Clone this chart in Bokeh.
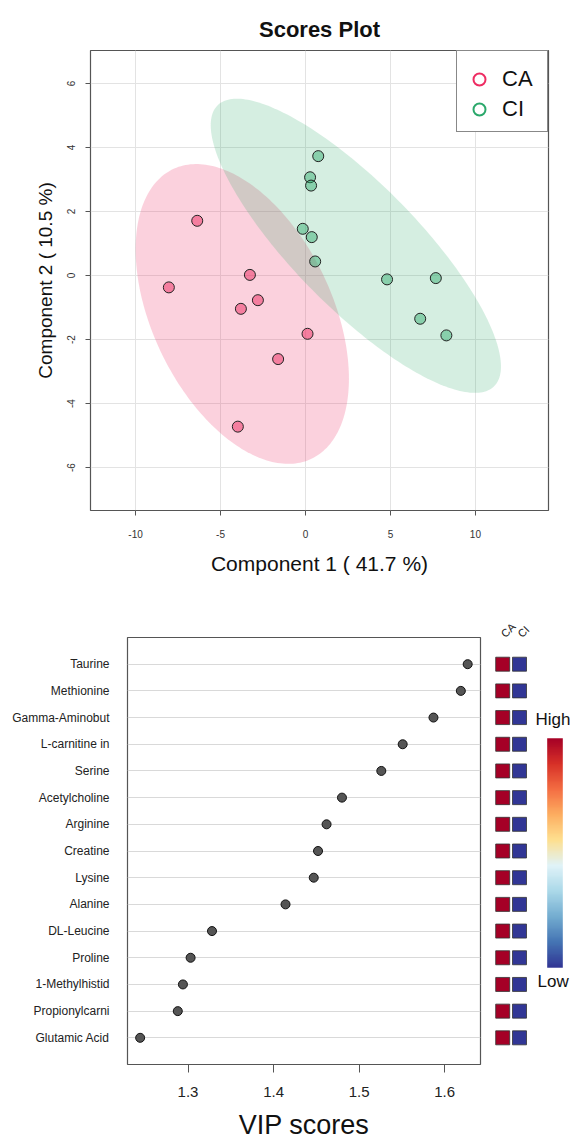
import numpy as np
from bokeh.plotting import figure
from bokeh.layouts import column, row
from bokeh.models import Range1d, FixedTicker, LinearAxis, LinearColorMapper, ColumnDataSource
from bokeh.embed import file_html
from bokeh.resources import INLINE
from bokeh.core.properties import value

FONT = "Liberation Sans"

# ---------------- data: scores plot ----------------
groups = ["CA", "CI"]
ca_pc1 = [-6.37, -8.04, -3.27, -2.80, -3.80, 0.12, -1.61, -3.98]
ca_pc2 = [1.71, -0.37, 0.02, -0.77, -1.04, -1.82, -2.61, -4.72]
ci_pc1 = [0.75, 0.27, 0.33, -0.16, 0.37, 0.57, 4.80, 7.67, 6.75, 8.29]
ci_pc2 = [3.73, 3.07, 2.81, 1.46, 1.20, 0.44, -0.12, -0.08, -1.35, -1.87]
score_x_ticks = [-10, -5, 0, 5, 10]
score_y_ticks = [-6, -4, -2, 0, 2, 4, 6]

# ---------------- data: VIP plot ----------------
metabolites = ["Taurine", "Methionine", "Gamma-Aminobut", "L-carnitine in", "Serine",
               "Acetylcholine", "Arginine", "Creatine", "Lysine", "Alanine",
               "DL-Leucine", "Proline", "1-Methylhistid", "Propionylcarni", "Glutamic Acid"]
vip = [1.627, 1.619, 1.587, 1.551, 1.526, 1.480, 1.462, 1.452, 1.447, 1.414,
       1.328, 1.303, 1.294, 1.288, 1.244]
ca_level = [1.0, 1.0, 1.0, 1.0, 1.0, 1.0, 1.0, 1.0, 1.0, 1.0, 1.0, 1.0, 1.0, 1.0, 1.0]
ci_level = [0.0, 0.0, 0.0, 0.0, 0.0, 0.0, 0.0, 0.0, 0.0, 0.0, 0.0, 0.0, 0.0, 0.0, 0.0]
vip_ticks = [1.3, 1.4, 1.5, 1.6]

CA_COL = "#EE2C62"
CI_COL = "#2BA86B"


def conf_ellipse(x, y, n=240):
    pts = np.vstack([x, y])
    mu = pts.mean(axis=1)
    cov = np.cov(pts)
    t = np.sqrt(-2 * np.log(0.05))  # sqrt(chi2_0.95, df=2)
    vals, vecs = np.linalg.eigh(cov)
    th = np.linspace(0, 2 * np.pi, n)
    circ = np.vstack([np.cos(th), np.sin(th)])
    e = vecs @ (np.sqrt(vals)[:, None] * circ) * t + mu[:, None]
    return e[0], e[1]


# ================= top: scores plot =================
p1 = figure(width=571, height=590, x_range=Range1d(-12.65, 14.3), y_range=Range1d(-7.34, 7.03),
            output_backend="svg", toolbar_location=None, title="Scores Plot",
            min_border_left=90, min_border_right=23, min_border_top=50, min_border_bottom=80)
p1.title.align = "center"
p1.title.text_font = FONT
p1.title.text_font_size = "22px"
p1.title.text_font_style = "bold"
p1.title.text_color = "#111111"
p1.title.standoff = 17
p1.outline_line_color = "#555555"
p1.outline_line_width = 1.2
p1.xaxis.ticker = FixedTicker(ticks=score_x_ticks)
p1.yaxis.ticker = FixedTicker(ticks=score_y_ticks)
p1.xaxis.major_label_overrides = {t: str(t) for t in score_x_ticks}
p1.yaxis.major_label_overrides = {t: str(t) for t in score_y_ticks}
for g in (p1.xgrid, p1.ygrid):
    g.grid_line_color = "#E3E3E3"
    g.grid_line_width = 1
for ax in (p1.xaxis, p1.yaxis):
    ax.axis_line_color = None
    ax.major_tick_out = 5
    ax.major_tick_in = 0
    ax.minor_tick_out = 0
    ax.minor_tick_in = 0
    ax.major_tick_line_color = "#555555"
    ax.major_label_text_font = FONT
    ax.major_label_text_font_size = "10px"
    ax.major_label_text_color = "#333333"
    ax.axis_label_text_font = FONT
    ax.axis_label_text_font_style = "normal"
    ax.axis_label_text_color = "#111111"
p1.xaxis.axis_label = "Component 1 ( 41.7 %)"
p1.xaxis.axis_label_text_font_size = "21px"
p1.xaxis.major_label_standoff = 14
p1.xaxis.axis_label_standoff = 11
p1.yaxis.axis_label = "Component 2 ( 10.5 %)"
p1.yaxis.axis_label_text_font_size = "19px"
p1.yaxis.major_label_orientation = "parallel"
p1.yaxis.major_label_standoff = 10
p1.yaxis.axis_label_standoff = 9

ex, ey = conf_ellipse(ca_pc1, ca_pc2)
p1.patch(ex, ey, fill_color=CA_COL, fill_alpha=0.22, line_color=None)
ex, ey = conf_ellipse(ci_pc1, ci_pc2)
p1.patch(ex, ey, fill_color=CI_COL, fill_alpha=0.2, line_color=None)

p1.scatter(ca_pc1, ca_pc2, marker="circle", size=11, fill_color=CA_COL, fill_alpha=0.5,
           line_color="#222222", line_width=1)
p1.scatter(ci_pc1, ci_pc2, marker="circle", size=11, fill_color=CI_COL, fill_alpha=0.45,
           line_color="#222222", line_width=1)

# legend entries (hollow circles, no visible data)
nan = float("nan")
p1.scatter(x=[nan], y=[nan], marker="circle", size=12, fill_color=None, line_color=CA_COL,
           line_width=2, legend_label=groups[0])
p1.scatter(x=[nan], y=[nan], marker="circle", size=12, fill_color=None, line_color=CI_COL,
           line_width=2, legend_label=groups[1])
lg = p1.legend[0]
lg.location = "top_right"
lg.margin = 0
lg.padding = 7
lg.spacing = 0
lg.title = " "
lg.title_text_font_size = "6px"
lg.title_standoff = 0
lg.glyph_width = 30
lg.glyph_height = 30
lg.label_height = 28
lg.label_width = 38
lg.label_standoff = 8
lg.label_text_font = FONT
lg.label_text_font_size = "22px"
lg.label_text_color = "#111111"
lg.border_line_color = "#111111"
lg.border_line_width = 1.5
lg.background_fill_alpha = 1.0

# ================= bottom: VIP plot =================
n = len(metabolites)
ypos = [n - i for i in range(n)]
p2 = figure(width=490, height=552, x_range=Range1d(1.2292, 1.642), y_range=Range1d(0, n + 1),
            output_backend="svg", toolbar_location=None,
            min_border_left=127, min_border_right=10, min_border_top=47, min_border_bottom=77)
p2.outline_line_color = "#555555"
p2.outline_line_width = 1.2
p2.xgrid.grid_line_color = None
p2.ygrid.grid_line_color = "#D9D9D9"
p2.ygrid.grid_line_width = 1
p2.xaxis.ticker = FixedTicker(ticks=vip_ticks)
p2.yaxis.ticker = FixedTicker(ticks=ypos)
p2.yaxis.major_label_overrides = {yy: name for yy, name in zip(ypos, metabolites)}
for ax in (p2.xaxis, p2.yaxis):
    ax.axis_line_color = None
    ax.minor_tick_out = 0
    ax.minor_tick_in = 0
    ax.major_tick_in = 0
    ax.major_label_text_font = FONT
    ax.major_label_text_color = "#222222"
p2.xaxis.major_tick_out = 8
p2.xaxis.major_tick_line_color = "#555555"
p2.xaxis.major_label_text_font_size = "15px"
p2.xaxis.major_label_standoff = 14
p2.xaxis.axis_label = "VIP scores"
p2.xaxis.axis_label_text_font = FONT
p2.xaxis.axis_label_text_font_size = "27px"
p2.xaxis.axis_label_text_font_style = "normal"
p2.xaxis.axis_label_text_color = "#111111"
p2.xaxis.axis_label_standoff = 10
p2.yaxis.major_tick_out = 0
p2.yaxis.major_tick_line_color = None
p2.yaxis.major_label_text_font_size = "12px"
p2.yaxis.major_label_standoff = 18

p2.scatter(vip, ypos, marker="circle", size=9, fill_color="#555555", line_color="#111111",
           line_width=1)

# ================= right: group heat squares and colour key =================
p3 = figure(width=81, height=552, x_range=Range1d(0, 81), y_range=p2.y_range,
            output_backend="svg", toolbar_location=None, x_axis_location=None,
            y_axis_location=None,
            min_border_left=0, min_border_right=0, min_border_top=47, min_border_bottom=77)
p3.grid.grid_line_color = None
p3.outline_line_color = None

col_x = [12.2 + 16.8 * i for i in range(len(groups))]
top_ax = LinearAxis(ticker=FixedTicker(ticks=col_x),
                    major_label_overrides={cx: g for cx, g in zip(col_x, groups)})
top_ax.axis_line_color = None
top_ax.major_tick_line_color = None
top_ax.minor_tick_line_color = None
top_ax.major_tick_out = 0
top_ax.major_label_standoff = 2
top_ax.major_label_orientation = np.pi / 4
top_ax.major_label_text_font = FONT
top_ax.major_label_text_font_size = "11px"
top_ax.major_label_text_color = "#222222"
p3.add_layout(top_ax, "above")

anchors = ["#313695", "#4575B4", "#74ADD1", "#ABD9E9", "#E0F3F8",
           "#FEE090", "#FDAE61", "#F46D43", "#D73027", "#A50026"]


def hex2rgb(h):
    return [int(h[i:i + 2], 16) for i in (1, 3, 5)]


arr = np.array([hex2rgb(c) for c in anchors], dtype=float)
tt = np.linspace(0, 1, 256)
src_t = np.linspace(0, 1, len(anchors))
palette = ["#%02x%02x%02x" % tuple(int(round(np.interp(t, src_t, arr[:, k]))) for k in range(3))
           for t in tt]
mapper = LinearColorMapper(palette=palette, low=0, high=1)

sq_x, sq_y, sq_v = [], [], []
for gi, levels in enumerate([ca_level, ci_level]):
    for yy, v in zip(ypos, levels):
        sq_x.append(col_x[gi])
        sq_y.append(yy)
        sq_v.append(v)
sq = ColumnDataSource(dict(x=sq_x, y=sq_y, v=sq_v))
p3.rect(x="x", y="y", width=14, height=14, width_units="screen", height_units="screen",
        source=sq, fill_color={"field": "v", "transform": mapper}, line_color="#333333",
        line_width=0.8)

# colour key, placed by row units (frame bottom at page y 1065, ~26.75 px per row)
row_px = (552 - 47 - 77) / (n + 1)
grad = np.linspace(0, 1, 256).reshape(256, 1)
cb_bottom = (1065 - 968) / row_px
p3.image(image=[grad], x=56.7, y=cb_bottom, dw=15.6, dh=230 / row_px, color_mapper=mapper)
p3.text(x=[45], y=[(1065 - 719) / row_px], text=["High"], text_font=value(FONT),
        text_font_size="17px", text_align="left", text_baseline="middle", text_color="#111111")
p3.text(x=[47], y=[(1065 - 982) / row_px], text=["Low"], text_font=value(FONT),
        text_font_size="17px", text_align="left", text_baseline="middle", text_color="#111111")

layout = column(p1, row(p2, p3, spacing=0), spacing=0)
open("out.html", "w").write(file_html(layout, INLINE))
